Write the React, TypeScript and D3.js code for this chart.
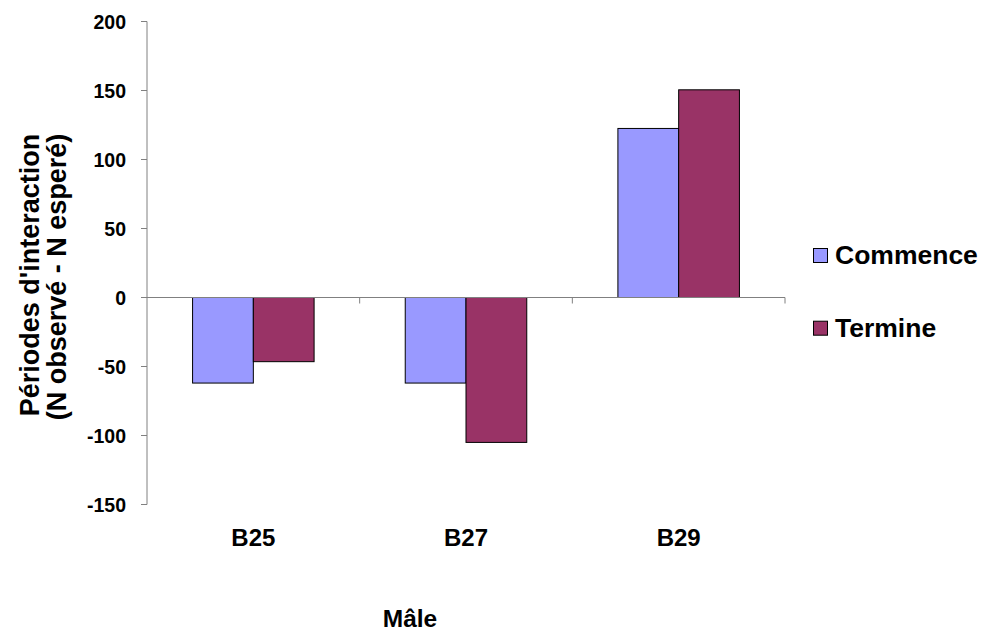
import React from "react";
import * as d3 from "d3";

const categories = ["B25", "B27", "B29"];
const seriesNames = ["Commence", "Termine"];
const commence = [-62, -62, 122.5];
const termine = [-46.5, -105, 150.5];
const yTicks = [-150, -100, -50, 0, 50, 100, 150, 200];
const colors = ["#9999FF", "#993366"];

const W = 986;
const H = 634;
const FONT = "'Liberation Sans', Arial, sans-serif";

export default function App() {
  const x = d3.scaleBand<string>().domain(categories).range([147, 785]).padding(0);
  const y = d3.scaleLinear().domain([-150, 200]).range([504.5, 21.5]);
  const bw = x.bandwidth();
  const barW = bw / 3.5;
  const off = barW * 0.75;
  const series = [commence, termine];
  const y0 = y(0);

  return (
    <svg width={W} height={H} style={{ position: "absolute", left: 0, top: 0, background: "#fff" }}>
      {/* bars */}
      {series.map((vals, si) =>
        vals.map((v, ci) => {
          const x0 = (x(categories[ci]) as number) + off + si * barW;
          const top = Math.min(y(v), y0);
          const h = Math.abs(y(v) - y0);
          return (
            <rect key={`${si}-${ci}`} x={x0} y={top} width={barW} height={h}
              fill={colors[si]} stroke="#000" strokeWidth={1} />
          );
        })
      )}
      {/* y axis */}
      <line x1={147} x2={147} y1={y(200)} y2={y(-150)} stroke="#808080" strokeWidth={1} />
      {yTicks.map((t) => (
        <g key={t}>
          <line x1={141} x2={147} y1={y(t)} y2={y(t)} stroke="#808080" strokeWidth={1} />
          <text x={126} y={y(t)} dy="0.36em" textAnchor="end" fontFamily={FONT}
            fontWeight="bold" fontSize={19.5} fill="#000">{t}</text>
        </g>
      ))}
      {/* x axis at zero */}
      <line x1={147} x2={785} y1={y0} y2={y0} stroke="#808080" strokeWidth={1} />
      {categories.map((c) => (
        <line key={c} x1={(x(c) as number) + bw} x2={(x(c) as number) + bw} y1={y0} y2={y0 + 6}
          stroke="#808080" strokeWidth={1} />
      ))}
      {categories.map((c) => (
        <text key={c} x={(x(c) as number) + bw / 2} y={546} textAnchor="middle" fontFamily={FONT}
          fontWeight="bold" fontSize={24} fill="#000">{c}</text>
      ))}
      <text x={410} y={627} textAnchor="middle" fontFamily={FONT} fontWeight="bold" fontSize={24.5} fill="#000">Mâle</text>
      {/* y title */}
      <text transform={`translate(39,275) rotate(-90)`} textAnchor="middle" fontFamily={FONT}
        fontWeight="bold" fontSize={27} fill="#000">Périodes d'interaction</text>
      <text transform={`translate(66,277) rotate(-90)`} textAnchor="middle" fontFamily={FONT}
        fontWeight="bold" fontSize={27} fill="#000">(N observé - N esperé)</text>
      {/* legend */}
      {seriesNames.map((n, i) => (
        <g key={n} transform={`translate(0,${i * 72.7})`}>
          <rect x={813.5} y={248.5} width={14} height={14} fill={colors[i]} stroke="#000" strokeWidth={1} />
          <text x={835} y={264} fontFamily={FONT} fontWeight="bold" fontSize={26.5} fill="#000">{n}</text>
        </g>
      ))}
    </svg>
  );
}
